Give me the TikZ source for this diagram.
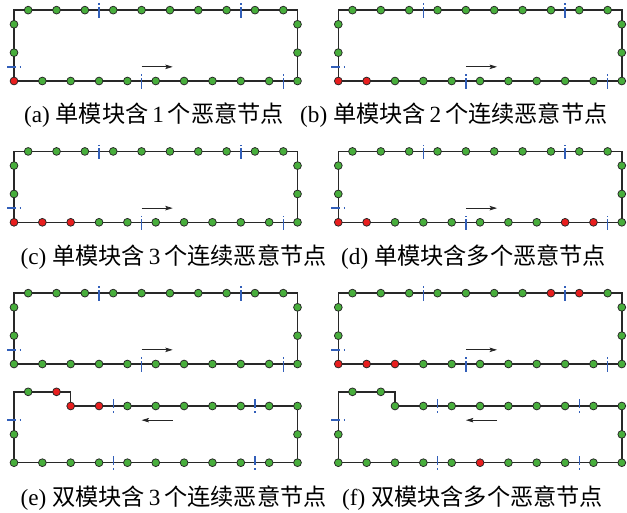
\documentclass[tikz,border=0pt]{standalone}
\usepackage{fontspec}
\setmainfont{Liberation Serif}
\newfontfamily\cjk{Noto Sans CJK SC}
\usetikzlibrary{arrows.meta}
\definecolor{ndgreen}{RGB}{72,174,60}
\definecolor{ndred}{RGB}{232,30,30}
\definecolor{tickblue}{RGB}{50,95,185}
\definecolor{ringgray}{RGB}{40,40,40}
\makeatletter
\newcommand\pickcol[2]{\edef\@tmpa{\noexpand\in@{,#1,}{,#2,}}\@tmpa\ifin@\def\ndcol{ndred}\else\def\ndcol{ndgreen}\fi}
\makeatother
\def\s{28.35}
\tikzset{
  ring/.style={draw=ringgray, line width=1.5pt, line join=miter},
  nd/.style={circle, draw=black!85, line width=0.75pt, minimum size=7.8pt, inner sep=0pt},
  vtickA/.style={draw=tickblue, line width=1.4pt, dash pattern=on 11pt off 1.8pt on 1.5pt off 20pt},
  vtickB/.style={draw=tickblue, line width=1.4pt, dash pattern=on 9pt off 3pt on 1.5pt off 20pt},
  htick/.style={draw=tickblue, line width=1.4pt, dash pattern=on 9pt off 3.5pt on 1.5pt off 20pt},
  dirarrow/.style={draw=black!85, line width=0.8pt, -{Stealth[length=7.5pt,width=4.5pt,inset=1.5pt]}},
  captxt/.style={inner sep=0pt, anchor=base west, font=\fontsize{23.2}{27}\selectfont}
}
% single ring: #1 prefix, #2 red bottom indices, #3 red top indices
\newcommand\ringone[3]{%
  \coordinate (#1-bl) at (0,0);
  \coordinate (#1-br) at (10*\s,0);
  \coordinate (#1-tr) at (10*\s,-2.5*\s);
  \coordinate (#1-tl) at (0,-2.5*\s);
  \draw[ring] (#1-bl) -- (#1-br) -- (#1-tr) -- (#1-tl) -- cycle;
  \foreach \x in {4.5,9.5}{\draw[vtickA] (\x*\s,7.5) -- (\x*\s,-7);}
  \foreach \x in {3,8}{\draw[vtickA] (\x*\s,-2.5*\s+7.5) -- (\x*\s,-2.5*\s-7);}
  \draw[htick] (-7,-0.5*\s) -- (7.5,-0.5*\s);
  \coordinate (#1-as) at (4.5*\s,-0.5*\s);
  \coordinate (#1-ae) at (5.6*\s,-0.5*\s);
  \draw[dirarrow] (#1-as) -- (#1-ae);
  \foreach \k in {0,...,10}{\pickcol{\k}{#2}\node[nd,fill=\ndcol] (#1-b\k) at (\k*\s,0) {};}
  \foreach \k in {0,...,9}{\pickcol{\k}{#3}\node[nd,fill=\ndcol] (#1-t\k) at ({(\k+0.5)*\s},-2.5*\s) {};}
  \node[nd,fill=ndgreen] (#1-r1) at (10*\s,-\s) {};
  \node[nd,fill=ndgreen] (#1-r2) at (10*\s,-2*\s) {};
  \node[nd,fill=ndgreen] (#1-l1) at (0,-\s) {};
  \node[nd,fill=ndgreen] (#1-l2) at (0,-2*\s) {};
}
% stepped ring: #1 prefix, #2 red bottom, #3 red top (2..10), #4 red step (0,1)
\newcommand\ringtwo[4]{%
  \coordinate (#1-bl) at (0,0);
  \coordinate (#1-br) at (10*\s,0);
  \coordinate (#1-tr) at (10*\s,-2*\s);
  \coordinate (#1-sa) at (2*\s,-2*\s);
  \coordinate (#1-sb) at (2*\s,-2.5*\s);
  \coordinate (#1-tl) at (0,-2.5*\s);
  \draw[ring] (#1-bl) -- (#1-br) -- (#1-tr) -- (#1-sa) -- (#1-sb) -- (#1-tl) -- cycle;
  \foreach \x in {3.5,8.5}{\draw[vtickB] (\x*\s,-6.7) -- (\x*\s,7.5);}
  \foreach \x in {3.5,8.5}{\draw[vtickB] (\x*\s,-2*\s-6.7) -- (\x*\s,-2*\s+7.5);}
  \draw[htick] (-7,-1.5*\s) -- (7.5,-1.5*\s);
  \coordinate (#1-as) at (5.6*\s,-1.5*\s);
  \coordinate (#1-ae) at (4.5*\s,-1.5*\s);
  \draw[dirarrow] (#1-as) -- (#1-ae);
  \foreach \k in {0,...,10}{\pickcol{\k}{#2}\node[nd,fill=\ndcol] (#1-b\k) at (\k*\s,0) {};}
  \foreach \k in {2,...,10}{\pickcol{\k}{#3}\node[nd,fill=\ndcol] (#1-t\k) at (\k*\s,-2*\s) {};}
  \foreach \k in {0,1}{\pickcol{\k}{#4}\node[nd,fill=\ndcol] (#1-s\k) at ({(\k+0.5)*\s},-2.5*\s) {};}
  \node[nd,fill=ndgreen] (#1-r1) at (10*\s,-\s) {};
  \node[nd,fill=ndgreen] (#1-l1) at (0,-\s) {};
}
\begin{document}
\begin{tikzpicture}[x=1pt,y=-1pt]
\useasboundingbox (0,0) rectangle (627,512);
\begin{scope}[shift={(14,81)}]\ringone{a}{0}{}\end{scope}
\begin{scope}[shift={(338.3,81)}]\ringone{b}{0,1}{}\end{scope}
\begin{scope}[shift={(14,222.3)}]\ringone{c}{0,1,2}{}\end{scope}
\begin{scope}[shift={(338.3,222.3)}]\ringone{d}{0,1,8,9}{}\end{scope}
\begin{scope}[shift={(14,364)}]\ringone{e}{}{}\end{scope}
\begin{scope}[shift={(14,462.7)}]\ringtwo{ee}{}{2,3}{1}\end{scope}
\begin{scope}[shift={(338.3,364)}]\ringone{f}{0,1,2}{7,8}\end{scope}
\begin{scope}[shift={(338.3,462.7)}]\ringtwo{ff}{5}{}{}\end{scope}
\node[captxt] (capa) at (24,122) {(a) {\cjk 单模块含}\,1\,{\cjk 个恶意节点}};
\node[captxt] (capb) at (300,122) {(b) {\cjk 单模块含}\,2\,{\cjk 个连续恶意节点}};
\node[captxt] (capc) at (20.5,264.5) {(c) {\cjk 单模块含}\,3\,{\cjk 个连续恶意节点}};
\node[captxt] (capd) at (341,264.5) {(d) {\cjk 单模块含多个恶意节点}};
\node[captxt] (cape) at (20.5,505) {(e) {\cjk 双模块含}\,3\,{\cjk 个连续恶意节点}};
\node[captxt] (capf) at (342,505) {(f) {\cjk 双模块含多个恶意节点}};
\end{tikzpicture}
\end{document}
